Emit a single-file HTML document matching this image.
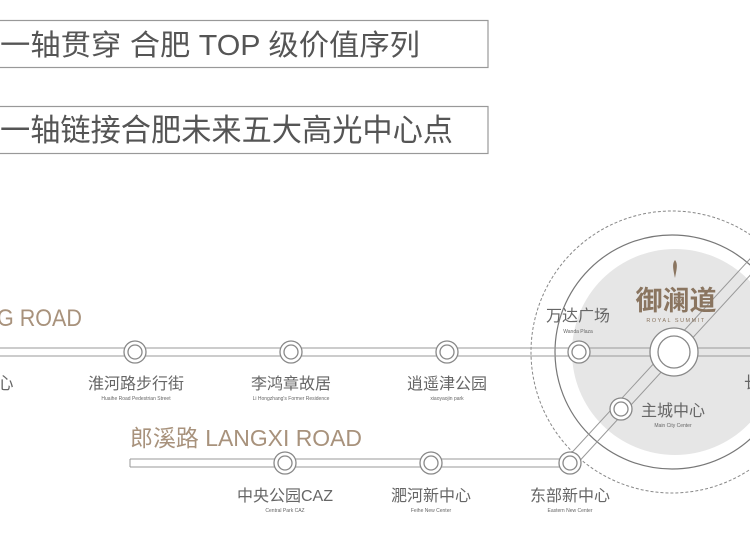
<!DOCTYPE html>
<html><head><meta charset="utf-8"><style>
body{margin:0;background:#fff;width:750px;height:560px;overflow:hidden}
svg{display:block}
text{font-family:"Liberation Sans","Noto Sans CJK SC",sans-serif}
</style></head><body>
<svg width="750" height="560" viewBox="0 0 750 560" xmlns="http://www.w3.org/2000/svg">
<rect x="-5" y="20.5" width="493" height="47" fill="none" stroke="#999" stroke-width="1.2"/>
<rect x="-5" y="106.5" width="493" height="47" fill="none" stroke="#999" stroke-width="1.2"/>
<text x="0" y="55" font-size="29" fill="#555" textLength="420" lengthAdjust="spacingAndGlyphs">一轴贯穿 合肥 TOP 级价值序列</text>
<text x="0" y="141" font-size="31" fill="#555" textLength="453" lengthAdjust="spacingAndGlyphs">一轴链接合肥未来五大高光中心点</text>

<circle cx="672" cy="352" r="141" fill="none" stroke="#888" stroke-width="1" stroke-dasharray="3,2"/>
<circle cx="672" cy="352" r="117" fill="#fff" stroke="#777" stroke-width="1.2"/>
<circle cx="675" cy="352" r="103" fill="#e6e6e6"/>

<line x1="0" y1="348" x2="750" y2="348" stroke="#999" stroke-width="1"/>
<line x1="0" y1="356" x2="750" y2="356" stroke="#999" stroke-width="1"/>
<path d="M130 459 H572 M130 467 H568 M130 459 V467" stroke="#999" stroke-width="1" fill="none"/>
<line x1="565" y1="460" x2="760" y2="248" stroke="#999" stroke-width="1"/>
<line x1="574" y1="467" x2="766" y2="258" stroke="#999" stroke-width="1"/>

<g fill="#fff" stroke="#888" stroke-width="1.3">
<circle cx="135" cy="352" r="11"/><circle cx="135" cy="352" r="7"/>
<circle cx="291" cy="352" r="11"/><circle cx="291" cy="352" r="7"/>
<circle cx="447" cy="352" r="11"/><circle cx="447" cy="352" r="7"/>
<circle cx="579" cy="352" r="11"/><circle cx="579" cy="352" r="7"/>
<circle cx="621" cy="409" r="11"/><circle cx="621" cy="409" r="7"/>
<circle cx="285" cy="463" r="11"/><circle cx="285" cy="463" r="7"/>
<circle cx="431" cy="463" r="11"/><circle cx="431" cy="463" r="7"/>
<circle cx="570" cy="463" r="11"/><circle cx="570" cy="463" r="7"/>
<circle cx="674" cy="352" r="24"/><circle cx="674" cy="352" r="16"/>
</g>

<text x="-3" y="326" font-size="24" fill="#a8927c" textLength="85" lengthAdjust="spacingAndGlyphs">G ROAD</text>
<text x="130" y="446" font-size="23" fill="#a8927c" textLength="232" lengthAdjust="spacingAndGlyphs">郎溪路  LANGXI ROAD</text>

<g fill="#666" text-anchor="middle">
<text x="5" y="389" font-size="17">心</text>
<text x="136" y="389" font-size="16">淮河路步行街</text>
<text x="136" y="400" font-size="5">Huaihe Road Pedestrian Street</text>
<text x="291" y="389" font-size="16">李鸿章故居</text>
<text x="291" y="400" font-size="5">Li Hongzhang's Former Residence</text>
<text x="447" y="389" font-size="16">逍遥津公园</text>
<text x="447" y="400" font-size="5">xiaoyaojin park</text>
<text x="578" y="321" font-size="16">万达广场</text>
<text x="578" y="333" font-size="5">Wanda Plaza</text>
<text x="673" y="416" font-size="16">主城中心</text>
<text x="673" y="427" font-size="5">Main City Center</text>
<text x="285" y="501" font-size="16">中央公园CAZ</text>
<text x="285" y="512" font-size="5">Central Park CAZ</text>
<text x="431" y="501" font-size="16">淝河新中心</text>
<text x="431" y="512" font-size="5">Feihe New Center</text>
<text x="570" y="501" font-size="16">东部新中心</text>
<text x="570" y="512" font-size="5">Eastern New Center</text>
<text x="752" y="388" font-size="16">长</text>
</g>

<path d="M675 260 C672 264 673 268 675 278 C677 268 678 264 675 260Z" fill="#8a7560"/>
<text x="676" y="310" font-size="27" fill="#8a7560" text-anchor="middle" font-weight="bold">御澜道</text>
<text x="676" y="322" font-size="5.5" fill="#8a7560" text-anchor="middle" letter-spacing="1.5">ROYAL SUMMIT</text>
</svg>
</body></html>
